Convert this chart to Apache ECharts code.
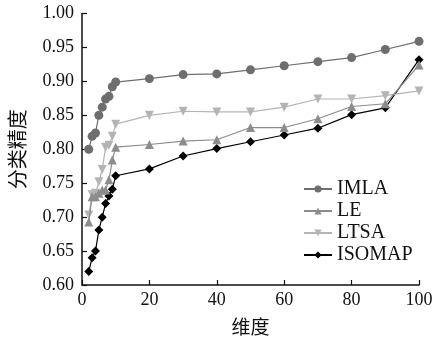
<!DOCTYPE html>
<html>
<head>
<meta charset="utf-8">
<script src="https://cdn.jsdelivr.net/npm/echarts@6/dist/echarts.min.js"></script>
<style>
  html, body { margin: 0; padding: 0; background: #fff; }
  #chart { width: 432px; height: 340px; }
</style>
</head>
<body>
<div id="chart"></div>
<script>
// ── Data ──────────────────────────────────────────────────────────────
const dims   = [2, 3, 4, 5, 6, 7, 8, 9, 10, 20, 30, 40, 50, 60, 70, 80, 90, 100];
const imla   = [0.80, 0.819, 0.824, 0.85, 0.862, 0.874, 0.878, 0.892, 0.899, 0.904, 0.910, 0.911, 0.917, 0.923, 0.929, 0.935, 0.947, 0.959];
const le     = [0.693, 0.73, 0.73, 0.735, 0.74, 0.74, 0.755, 0.784, 0.803, 0.807, 0.812, 0.814, 0.832, 0.832, 0.845, 0.863, 0.867, 0.924];
const ltsa   = [0.703, 0.733, 0.735, 0.752, 0.77, 0.803, 0.806, 0.819, 0.837, 0.85, 0.856, 0.855, 0.855, 0.862, 0.874, 0.874, 0.879, 0.886];
const isomap = [0.62, 0.64, 0.65, 0.681, 0.70, 0.72, 0.731, 0.741, 0.761, 0.771, 0.79, 0.801, 0.811, 0.821, 0.831, 0.851, 0.861, 0.932];

const seriesNames = ['IMLA', 'LE', 'LTSA', 'ISOMAP'];
const seriesData  = [imla, le, ltsa, isomap];

// ── Style ─────────────────────────────────────────────────────────────
const serif  = '"Liberation Serif", "DejaVu Serif", serif';
const cjk    = '"Noto Sans CJK SC", sans-serif';
const colors = ['#6e6e6e', '#8c8c8c', '#b4b4b4', '#000000'];
const symbols = ['circle', 'triangle', 'triangle', 'diamond'];
const symbolSizes = [9, 9, 9, 9];

const pair = (arr) => dims.map((d, i) => [d, arr[i]]);

const series = seriesNames.map((name, k) => ({
  name,
  type: 'line',
  data: pair(seriesData[k]),
  symbol: symbols[k],
  symbolRotate: k === 2 ? 180 : 0,
  symbolSize: symbolSizes[k],
  lineStyle: { color: colors[k], width: 1.2 },
  itemStyle: { color: colors[k] },
  z: 10 - k,
}));

const chart = echarts.init(document.getElementById('chart'), null, { renderer: 'canvas' });
chart.setOption({
  animation: false,
  backgroundColor: '#fff',
  grid: { left: 82, right: 13, top: 13.5, bottom: 55, outerBoundsMode: 'none' },
  legend: {
    orient: 'vertical',
    left: 298,
    top: 174,
    itemWidth: 28,
    itemHeight: 9,
    itemGap: 2,
    textStyle: { fontFamily: serif, fontSize: 20, color: '#111' },
    data: seriesNames,
  },
  xAxis: {
    type: 'value',
    min: 0, max: 100, interval: 20,
    name: '维度',
    nameLocation: 'middle',
    nameGap: 32,
    nameTextStyle: { fontFamily: cjk, fontSize: 19, color: '#111' },
    axisLine: { onZero: false, lineStyle: { color: '#111', width: 1.5 } },
    axisTick: { inside: true, length: 5, lineStyle: { color: '#111', width: 1.2 } },
    axisLabel: { fontFamily: serif, fontSize: 18, color: '#111', margin: 6 },
    splitLine: { show: false },
  },
  yAxis: {
    type: 'value',
    min: 0.60, max: 1.00, interval: 0.05,
    name: '分类精度',
    nameLocation: 'middle',
    nameGap: 55,
    nameTextStyle: { fontFamily: cjk, fontSize: 20, color: '#111' },
    axisLine: { show: true, lineStyle: { color: '#111', width: 1.5 } },
    axisTick: { show: true, inside: true, length: 5, lineStyle: { color: '#111', width: 1.2 } },
    axisLabel: { fontFamily: serif, fontSize: 18, color: '#111', margin: 8, formatter: (v) => v.toFixed(2) },
    splitLine: { show: false },
  },
  series,
});
</script>
</body>
</html>
